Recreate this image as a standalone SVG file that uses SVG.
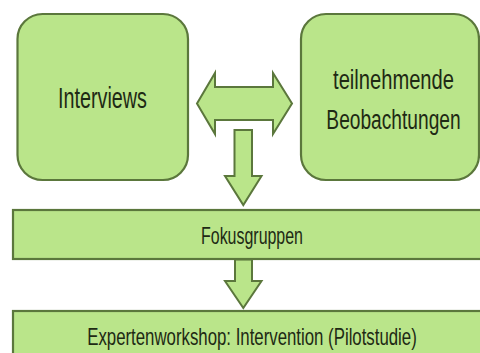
<svg xmlns="http://www.w3.org/2000/svg" width="480" height="353" viewBox="0 0 480 353">
<style>
.box{fill:#bae58a;stroke:#5b773c;stroke-width:2.2}
.arr{fill:#bae58a;stroke:#5b773c;stroke-width:2;stroke-linejoin:miter}
.t{font-family:"Liberation Sans",Arial,sans-serif;fill:#1e2a14;text-anchor:middle}
</style>
<rect width="480" height="353" fill="#ffffff"/>
<g id="connectors">
<polygon class="arr" points="197,103.5 215,73 215,87 273,87 273,73 292,103.5 273,134 273,120 215,120 215,134"/>
<polygon class="arr" points="234.5,130 252,130 252,176 261.5,176 243.3,205 225,176 234.5,176"/>
<polygon class="arr" points="235,259.5 252,259.5 252,281 261.5,281 243.3,308 225,281 235,281"/>
</g>
<g id="interviews">
<rect class="box" x="17.5" y="14" width="170.5" height="166" rx="25"/>
<text class="t" transform="translate(102.5,108) scale(0.682,1)" x="0" y="0" font-size="29">Interviews</text>
</g>
<g id="beobachtungen">
<rect class="box" x="301" y="14" width="178" height="166" rx="25"/>
<text class="t" transform="translate(393.5,89) scale(0.72,1)" x="0" y="0" font-size="28">teilnehmende</text>
<text class="t" transform="translate(393.5,129) scale(0.685,1)" x="0" y="0" font-size="28">Beobachtungen</text>
</g>
<g id="fokusgruppen">
<rect class="box" x="13" y="210" width="470" height="49"/>
<text class="t" transform="translate(252,244) scale(0.694,1)" x="0" y="0" font-size="23">Fokusgruppen</text>
</g>
<g id="expertenworkshop">
<rect class="box" x="13" y="311" width="470" height="50"/>
<text class="t" transform="translate(252,345) scale(0.731,1)" x="0" y="0" font-size="23">Expertenworkshop: Intervention (Pilotstudie)</text>
</g>
</svg>
